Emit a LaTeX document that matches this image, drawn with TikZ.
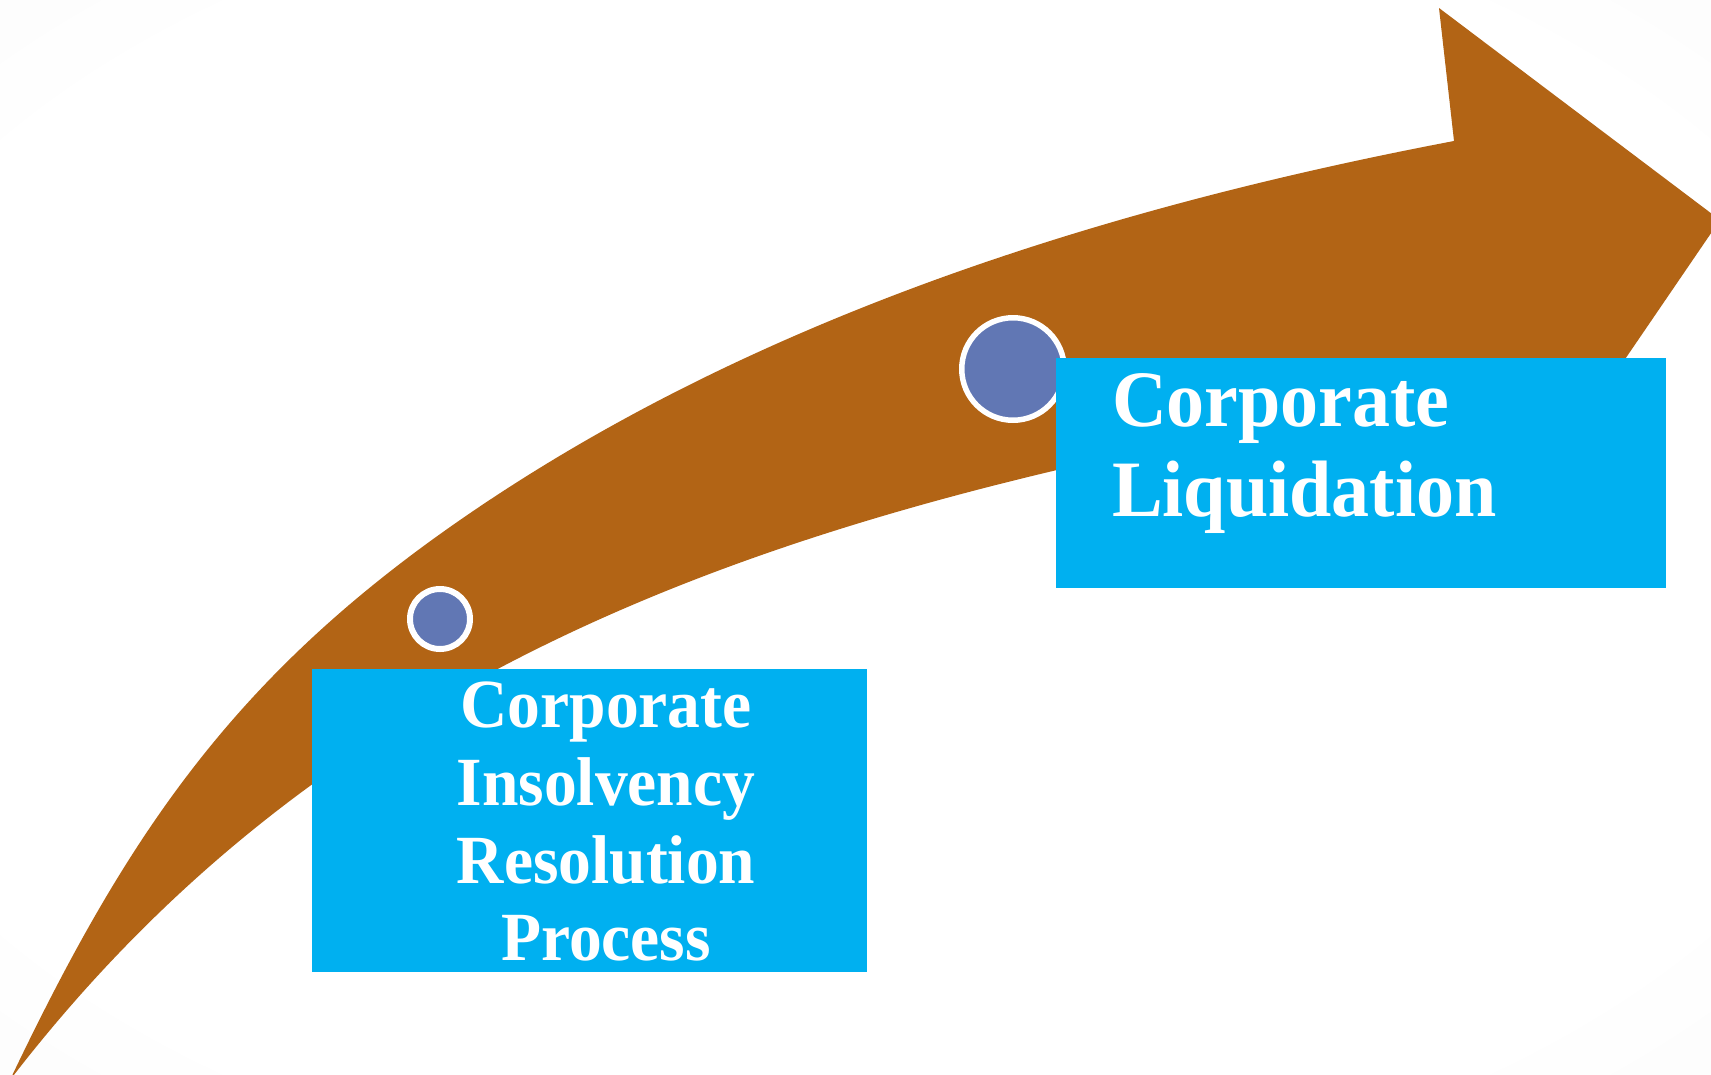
\documentclass[tikz,border=0pt]{standalone}
\usepackage{fontspec}
\setmainfont{Liberation Serif}
\newfontfamily\labelfont[FakeStretch=0.95]{Liberation Serif}

\definecolor{arrowbrown}{HTML}{B26415}
\definecolor{boxblue}{HTML}{00B0F0}
\definecolor{dotblue}{HTML}{6177B4}
\definecolor{bgedge}{HTML}{F6F6F6}
\definecolor{bgcorner}{HTML}{F0F0F0}

\pgfdeclareradialshading{backglow}{\pgfpoint{0bp}{0bp}}{%
  color(0bp)=(white); color(30bp)=(white); color(50bp)=(bgedge); color(72bp)=(bgcorner)}

\tikzset{
  stagebox/.style={rectangle, fill=boxblue, draw=none, inner sep=0pt, outer sep=0pt},
  milestone/.style={circle, fill=dotblue, draw=white, inner sep=0pt},
  stagelabel/.style={text=white, inner sep=0pt, outer sep=0pt},
}

\begin{document}
\begin{tikzpicture}[x=1pt, y=-1pt]
  \useasboundingbox (0,0) rectangle (1711,1074);
  \clip (0,0) rectangle (1711,1074);

  % soft backdrop
  \shade[shading=backglow] (0,0) rectangle (1711,1074);

  % curved progress arrow: upper edge, head, lower edge back to the tail
  \fill[arrowbrown]
    (10,1080) .. controls (122,845) and (225,689) .. (436,537)
              .. controls (731.6,324.4) and (1096.6,209) .. (1454,141)
    -- (1439,8) -- (1720,220) -- (1563,450) -- (1500,405) -- (1057,470)
    .. controls (628,571.4) and (278.4,731) .. (10,1080)
    -- cycle;

  % milestones on the arrow
  \node[milestone, minimum size=60pt, line width=6pt] (m1) at (440,619) {};
  \node[milestone, minimum size=102.5pt, line width=5.5pt] (m2) at (1013,369) {};

  % stage boxes
  \node[stagebox, minimum width=555pt, minimum height=303pt, anchor=north west]
    (cirp) at (312,669) {};
  \node[stagebox, minimum width=610pt, minimum height=230pt, anchor=north west]
    (liq) at (1056,358) {};

  % stage labels
  \node[stagelabel, align=center, anchor=north,
        font=\labelfont\fontsize{69pt}{77.7pt}\selectfont\bfseries]
    (cirptext) at (606,682) {Corporate\\Insolvency\\Resolution\\Process};
  \node[stagelabel, align=left, anchor=north west,
        font=\labelfont\fontsize{80pt}{90pt}\selectfont\bfseries]
    (liqtext) at (1112,374) {Corporate\\Liquidation};
\end{tikzpicture}
\end{document}
